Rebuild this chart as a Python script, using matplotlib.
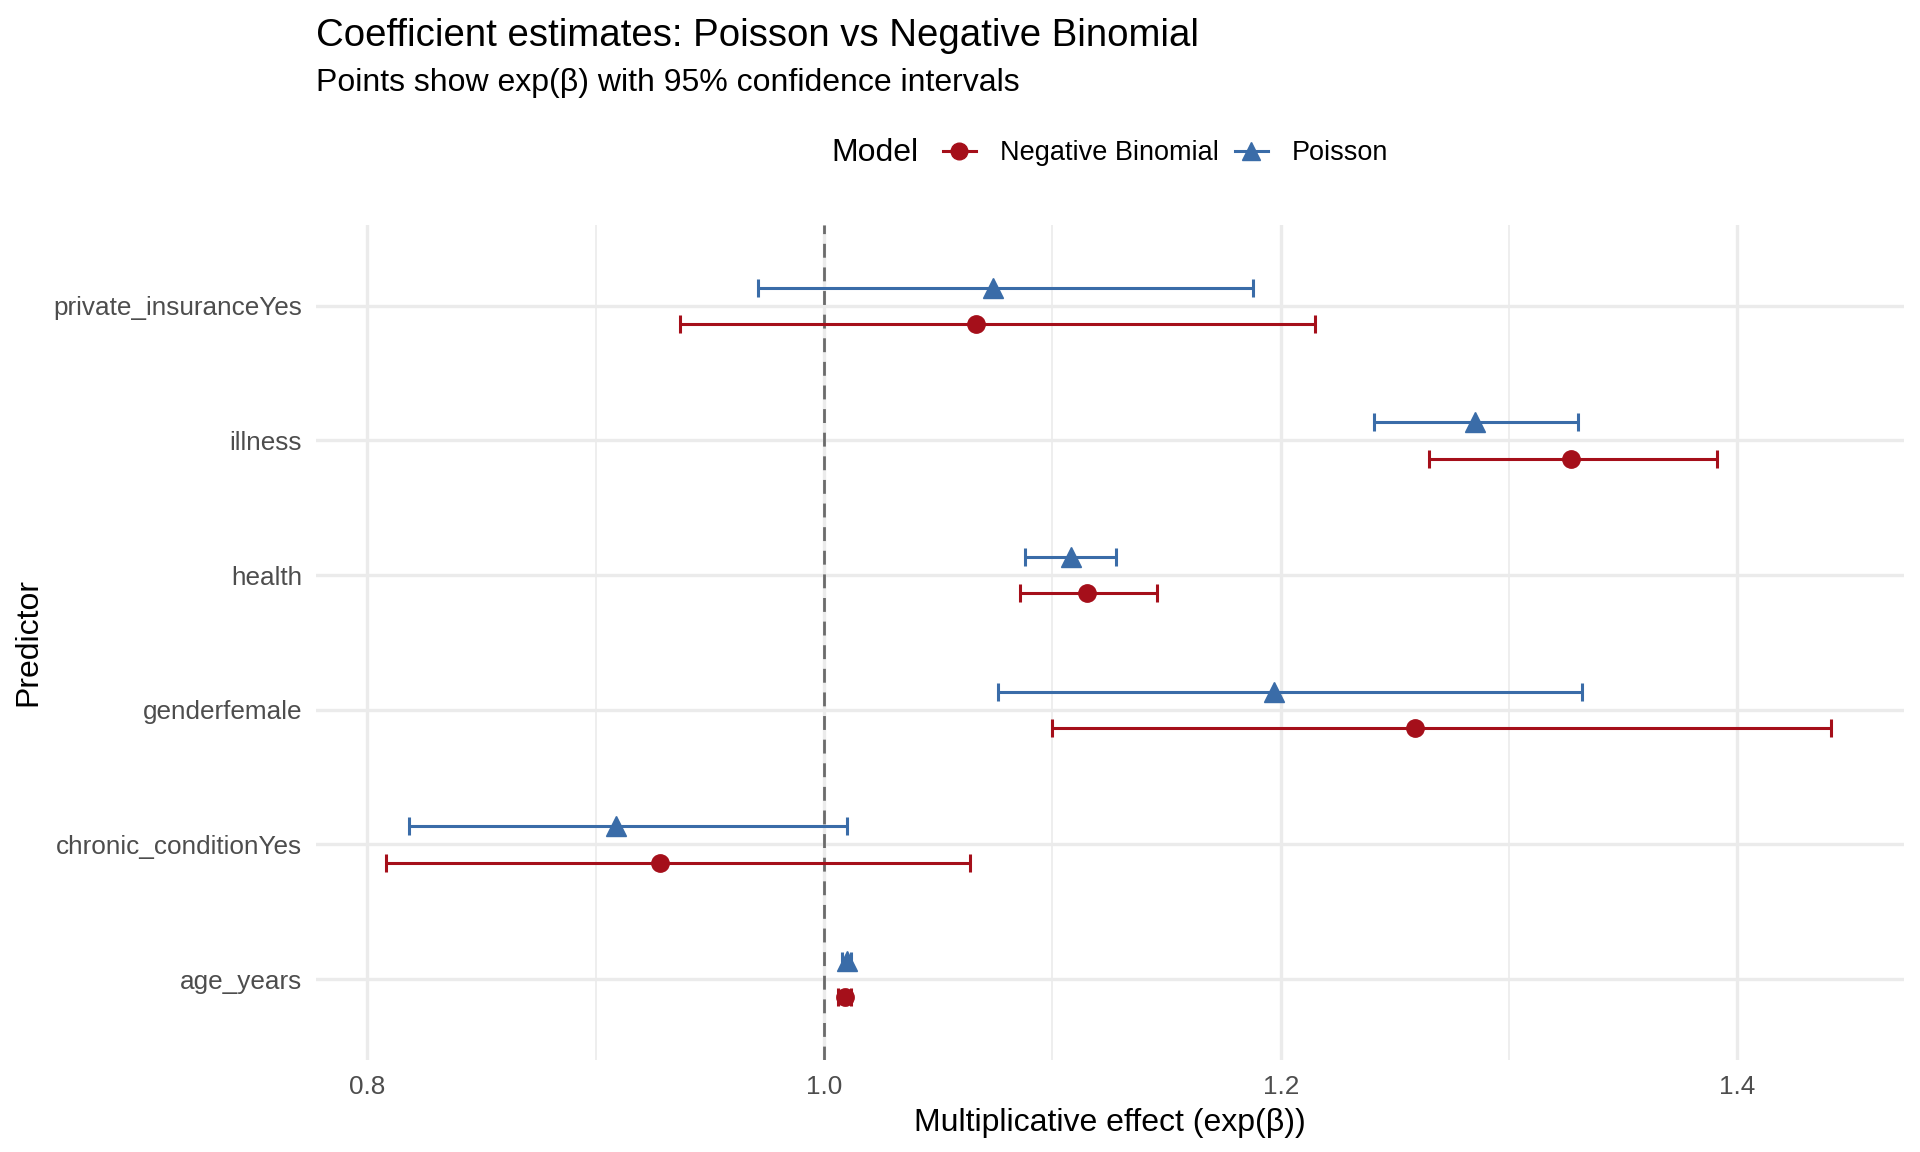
import matplotlib as mpl
mpl.use('Agg')
import matplotlib.pyplot as plt
from matplotlib.lines import Line2D
from matplotlib.offsetbox import HPacker
import numpy as np

plt.rcParams['font.family'] = ['Liberation Sans', 'DejaVu Sans']

predictors = ['age_years', 'chronic_conditionYes', 'genderfemale',
              'health', 'illness', 'private_insuranceYes']

# Poisson: estimate, lower, upper (exp scale)
pois_est = [1.010, 0.909, 1.197, 1.108, 1.285, 1.074]
pois_lo = [1.008, 0.818, 1.076, 1.088, 1.241, 0.971]
pois_hi = [1.012, 1.010, 1.332, 1.128, 1.330, 1.188]

# Negative binomial
nb_est = [1.009, 0.928, 1.259, 1.115, 1.327, 1.0665]
nb_lo = [1.006, 0.808, 1.100, 1.086, 1.265, 0.937]
nb_hi = [1.012, 1.064, 1.441, 1.146, 1.391, 1.215]

red = '#A50F1A'
blue = '#3A6CA8'

fig = plt.figure(figsize=(19.2, 11.52), dpi=100)
ax = fig.add_axes([0.1646, 0.0799, 0.8271, 0.7248])

y = np.arange(1, len(predictors) + 1)
dodge = 0.135

def draw(est, lo, hi, yy, color, marker, ms):
    est = np.array(est)
    xerr = [est - np.array(lo), np.array(hi) - est]
    ax.errorbar(est, yy, xerr=xerr, fmt='none', ecolor=color,
                elinewidth=2.2, capsize=6.5, capthick=2.2, zorder=3)
    ax.plot(est, yy, linestyle='none', marker=marker, color=color,
            markersize=ms, zorder=4)

draw(nb_est, nb_lo, nb_hi, y - dodge, red, 'o', 12.5)
draw(pois_est, pois_lo, pois_hi, y + dodge, blue, '^', 15)

ax.axvline(1.0, color='#6b6b6b', linestyle=(0, (5, 3.5)), linewidth=2, zorder=2)

ax.set_xlim(0.7775, 1.473)
ax.set_ylim(0.4, 6.6)
ax.set_yticks(y)
ax.set_yticklabels(predictors)
ax.set_xticks([0.8, 1.0, 1.2, 1.4])
ax.set_xticklabels(['0.8', '1.0', '1.2', '1.4'])
ax.set_xticks([0.9, 1.1, 1.3], minor=True)

ax.grid(True, which='major', axis='both', color='#EBEBEB', linewidth=2.4, zorder=0)
ax.grid(True, which='minor', axis='x', color='#EBEBEB', linewidth=1.2, zorder=0)
ax.set_axisbelow(True)
for s in ax.spines.values():
    s.set_visible(False)
ax.tick_params(axis='both', which='both', length=0, labelsize=18.8,
               labelcolor='#4D4D4D')
ax.tick_params(axis='y', pad=10)
ax.tick_params(axis='x', pad=11)

ax.set_xlabel('Multiplicative effect (exp(β))', fontsize=23)
ax.set_ylabel('Predictor', fontsize=23)
ax.xaxis.set_label_coords(0.5, -0.057)
ax.yaxis.set_label_coords(-0.172, 0.5)

fig.text(0.1646, 0.984, 'Coefficient estimates: Poisson vs Negative Binomial',
         fontsize=27.6, va='top', ha='left')
fig.text(0.1646, 0.941, 'Points show exp(β) with 95% confidence intervals',
         fontsize=23, va='top', ha='left')

handles = [
    Line2D([], [], color=red, marker='o', markersize=12, linewidth=2.2),
    Line2D([], [], color=blue, marker='^', markersize=13, linewidth=2.2),
]
leg = fig.legend(handles, ['Negative Binomial', 'Poisson'], title='Model',
                 loc='center', bbox_to_anchor=(0.578, 0.867), ncol=2,
                 frameon=False, fontsize=19.5, title_fontsize=23,
                 handlelength=1.2, handletextpad=0.9, columnspacing=0.6)
# put the legend title to the left of the entries
box = leg._legend_box
box._children = [HPacker(children=list(box.get_children()), align='center', pad=0, sep=18)]
fig.savefig('out.png', dpi=100)
